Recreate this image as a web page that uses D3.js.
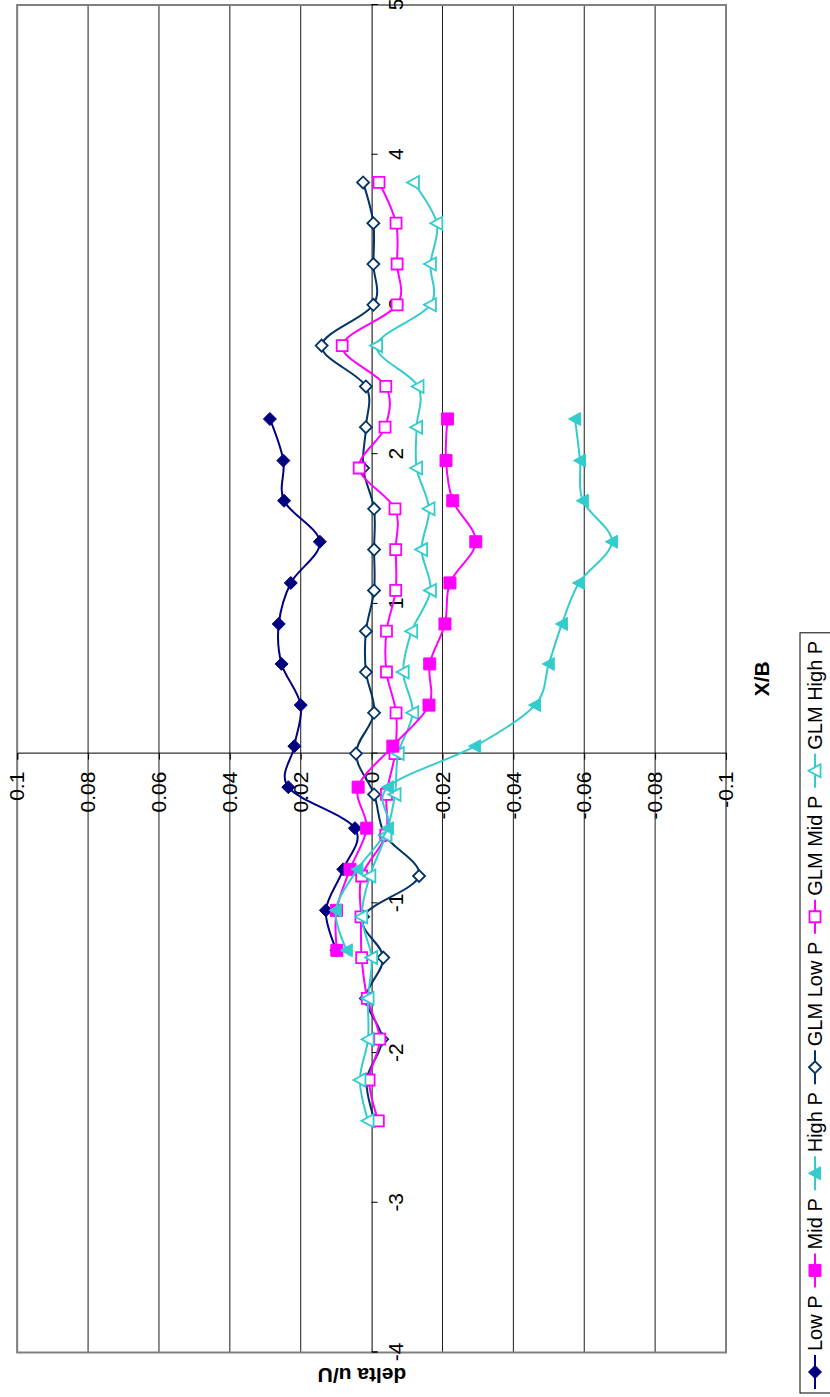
<!DOCTYPE html>
<html>
<head>
<meta charset="utf-8">
<script src="https://cdn.jsdelivr.net/npm/d3@7"></script>
<style>
  html, body { margin: 0; padding: 0; background: #fff; }
  svg { display: block; font-family: "Liberation Sans", Arial, sans-serif; }
</style>
</head>
<body>
<svg id="chart" width="830" height="1397"></svg>
<script>
// ---- Data (X/B positions and delta u/U values) ----
const xMeasured = [-1.314, -1.047, -0.773, -0.498, -0.224, 0.05, 0.324, 0.599, 0.866, 1.14, 1.415, 1.689, 1.957, 2.235];
const xGLM = [-2.4525, -2.18, -1.9075, -1.635, -1.3625, -1.09, -0.8175, -0.545, -0.2725, 0, 0.2725, 0.545, 0.8175, 1.09, 1.3625, 1.635, 1.9075, 2.18, 2.4525, 2.725, 2.9975, 3.27, 3.5425, 3.815];

const lowP  = [0.0099, 0.0129, 0.008, 0.0047, 0.0235, 0.0218, 0.020, 0.0254, 0.0262, 0.0228, 0.0146, 0.0247, 0.0249, 0.0287];
const midP  = [0.0098, 0.0099, 0.0061, 0.0014, 0.0038, -0.006, -0.0162, -0.0164, -0.0207, -0.0221, -0.0294, -0.0229, -0.021, -0.0214];
const highP = [0.007, 0.0101, 0.004, -0.0046, -0.0046, -0.0292, -0.0461, -0.050, -0.0537, -0.0585, -0.0678, -0.0596, -0.0588, -0.0574];

const glmLowP  = [-0.0009, 0.0014, -0.003, 0.0016, -0.0033, 0.0024, -0.0134, -0.0038, -0.0007, 0.0044, -0.0007, 0.0016, 0.0016, -0.0007, -0.0007, -0.0007, 0.0024, 0.0016, 0.0016, 0.0141, -0.0005, -0.0005, -0.0005, 0.0024];
const glmMidP  = [-0.0019, 0.0007, -0.0023, 0.0012, 0.0028, 0.003, 0.0028, -0.004, -0.0042, -0.0066, -0.0069, -0.0042, -0.0042, -0.0068, -0.0068, -0.0066, 0.0035, -0.0038, -0.004, 0.0083, -0.0072, -0.0072, -0.0069, -0.0021];
const glmHighP = [0.001, 0.0033, 0.001, 0.001, 0.0, 0.0028, 0.0005, -0.004, -0.0066, -0.0075, -0.0116, -0.0089, -0.0113, -0.0166, -0.0141, -0.0162, -0.0127, -0.0127, -0.0131, -0.0014, -0.0166, -0.0166, -0.0184, -0.0118];

const xTicks = [-4, -3, -2, -1, 0, 1, 2, 3, 4, 5];
const xTickLabels = ["-4", "-3", "-2", "-1", "0", "1", "2", "3", "4", "5"];
const yTicks = [-0.1, -0.08, -0.06, -0.04, -0.02, 0, 0.02, 0.04, 0.06, 0.08, 0.1];
const yTickLabels = ["-0.1", "-0.08", "-0.06", "-0.04", "-0.02", "0", "0.02", "0.04", "0.06", "0.08", "0.1"];
const xTitle = "X/B";
const yTitle = "delta u/U";

const seriesNames = ["Low P", "Mid P", "High P", "GLM Low P", "GLM Mid P", "GLM High P"];

// ---- Chart (drawn in unrotated frame, then rotated -90deg) ----
const W = 1397, H = 830;
const svg = d3.select("#chart");
svg.append("rect").attr("width", 830).attr("height", 1397).attr("fill", "#fff");
const g = svg.append("g").attr("transform", `translate(0,${W}) rotate(-90)`);

const x = d3.scaleLinear().domain([-4, 5]).range([44.5, 1392]);
const y = d3.scaleLinear().domain([-0.1, 0.1]).range([726, 17.2]);

// gridlines
g.append("g").selectAll("line").data(yTicks.filter(v => v !== 0)).join("line")
  .attr("x1", x(-4)).attr("x2", x(5))
  .attr("y1", d => y(d)).attr("y2", d => y(d))
  .attr("stroke", "#1a1a1a").attr("stroke-width", 1);

// plot border
g.append("rect")
  .attr("x", x(-4)).attr("y", y(0.1))
  .attr("width", x(5) - x(-4)).attr("height", y(-0.1) - y(0.1))
  .attr("fill", "none").attr("stroke", "#808080").attr("stroke-width", 2);

// axes crossing at zero
const xAxis = d3.axisBottom(x).tickValues(xTicks).tickSize(6)
  .tickFormat((d, i) => xTickLabels[i]);
const gx = g.append("g").attr("transform", `translate(0,${y(0)})`).call(xAxis);
gx.select(".domain").attr("stroke", "#000").attr("stroke-width", 1);
gx.selectAll(".tick line").attr("stroke", "#000");
gx.selectAll(".tick text").attr("font-size", 21).attr("fill", "#000")
  .attr("font-family", "'Liberation Sans', Arial, sans-serif").attr("y", 16).attr("dy", "0.71em");

const yAxis = d3.axisLeft(y).tickValues(yTicks).tickSize(6)
  .tickFormat((d, i) => yTickLabels[i]);
const gy = g.append("g").attr("transform", `translate(${x(0)},0)`).call(yAxis);
gy.select(".domain").attr("stroke", "#000").attr("stroke-width", 1);
gy.selectAll(".tick line").attr("stroke", "#000");
gy.selectAll(".tick text").attr("font-size", 21).attr("fill", "#000")
  .attr("font-family", "'Liberation Sans', Arial, sans-serif").attr("x", -18);

// titles
g.append("text").attr("x", x(0.5)).attr("y", 769)
  .attr("text-anchor", "middle").attr("font-size", 21).attr("font-weight", "bold")
  .text(xTitle);
g.append("text").attr("transform", `translate(22,362) rotate(-90)`)
  .attr("text-anchor", "middle").attr("dominant-baseline", "central")
  .attr("font-size", 21).attr("font-weight", "bold")
  .text(yTitle);

// marker shapes
function diamond(r) { return `M0,${-r}L${r},0L0,${r}L${-r},0Z`; }
function square(r) { return `M${-r},${-r}H${r}V${r}H${-r}Z`; }
function triangle(r) { return `M0,${-r}L${r},${r * 0.85}L${-r},${r * 0.85}Z`; }

const series = [
  { name: seriesNames[0], xs: xMeasured, ys: lowP,    color: "#000080", shape: diamond(6.5), fill: true },
  { name: seriesNames[1], xs: xMeasured, ys: midP,    color: "#FF00FF", shape: square(6),    fill: true },
  { name: seriesNames[2], xs: xMeasured, ys: highP,   color: "#33CCCC", shape: triangle(6.5), fill: true },
  { name: seriesNames[3], xs: xGLM,      ys: glmLowP, color: "#003366", shape: diamond(6),   fill: false },
  { name: seriesNames[4], xs: xGLM,      ys: glmMidP, color: "#FF00FF", shape: square(5.5),  fill: false },
  { name: seriesNames[5], xs: xGLM,      ys: glmHighP,color: "#33CCCC", shape: triangle(6.5), fill: false }
];

const line = d3.line().x(d => x(d[0])).y(d => y(d[1])).curve(d3.curveCardinal.tension(0));

const drawOrder = [3, 4, 5, 0, 1, 2];
drawOrder.forEach(i => {
  const s = series[i];
  const pts = s.xs.map((xv, j) => [xv, s.ys[j]]);
  g.append("path").attr("d", line(pts)).attr("fill", "none")
    .attr("stroke", s.color).attr("stroke-width", 2);
  g.append("g").selectAll("path").data(pts).join("path")
    .attr("transform", d => `translate(${x(d[0])},${y(d[1])})`)
    .attr("d", s.shape)
    .attr("fill", s.fill ? s.color : "#fff")
    .attr("stroke", s.color).attr("stroke-width", s.fill ? 1 : 1.8);
});

// legend
const legY = 815;
const leg = g.append("g");
const box = leg.append("rect").attr("x", 4).attr("y", 800).attr("height", 50)
  .attr("fill", "#fff").attr("stroke", "#000").attr("stroke-width", 1);
let cx = 8;
series.forEach(s => {
  const sampleLen = 34;
  leg.append("line").attr("x1", cx).attr("x2", cx + sampleLen)
    .attr("y1", legY).attr("y2", legY).attr("stroke", s.color).attr("stroke-width", 2);
  leg.append("path").attr("transform", `translate(${cx + sampleLen / 2},${legY})`)
    .attr("d", s.shape).attr("fill", s.fill ? s.color : "#fff")
    .attr("stroke", s.color).attr("stroke-width", s.fill ? 1 : 1.8);
  const t = leg.append("text").attr("x", cx + sampleLen + 4).attr("y", legY)
    .attr("dominant-baseline", "central").attr("font-size", 20).attr("fill", "#000")
    .text(s.name);
  cx += sampleLen + 4 + t.node().getComputedTextLength() + 8;
});
box.attr("width", cx - 4);
</script>
</body>
</html>
